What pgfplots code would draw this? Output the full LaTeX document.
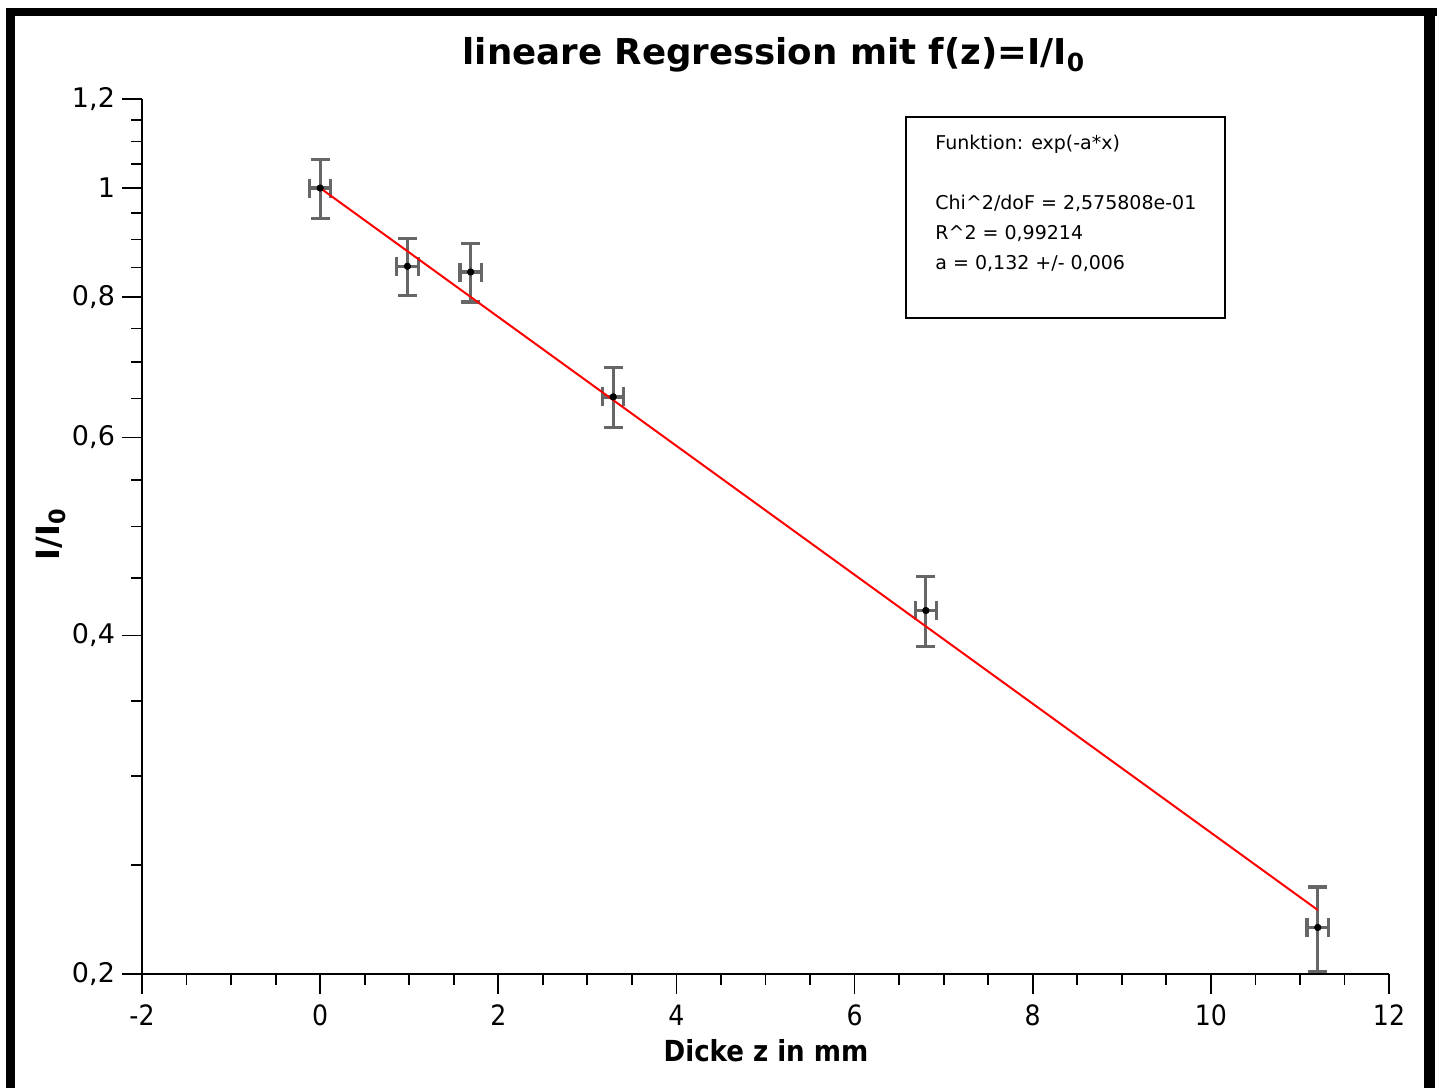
\documentclass[border=0pt]{standalone}
\usepackage{fontspec}
\setmainfont{DejaVu Sans}
\newfontfamily\cond{DejaVu Sans Condensed}
\usepackage{pgfplots}
\pgfplotsset{compat=1.18}
\begin{document}
\begin{tikzpicture}
\path[use as bounding box] (0,0) rectangle (719.5pt,544pt);
\begin{axis}[
  at={(71pt,57pt)}, anchor=south west,
  scale only axis, width=623.5pt, height=437.5pt,
  xmin=-2, xmax=12, ymode=log, ymin=0.2, ymax=1.2,
  axis lines=left, axis line style={-, line width=1.1pt, black},
  tick align=outside,
  major tick length=10pt, minor tick length=5.5pt,
  every tick/.style={black, line width=0.9pt},
  xtick={-2,0,2,4,6,8,10,12},
  xticklabels={-2,0,2,4,6,8,10,12},
  minor x tick num=3,
  ytick={0.2,0.4,0.6,0.8,1,1.2},
  yticklabels={{0,2},{0,4},{0,6},{0,8},1,{1,2}},
  minor ytick={0.25,0.3,0.35,0.45,0.5,0.55,0.65,0.7,0.75,0.85,0.9,0.95,1.05,1.1,1.15},
  xticklabel style={font=\cond\fontsize{14}{16}\selectfont, yshift=-2pt},
  yticklabel style={font=\fontsize{13.5}{15}\selectfont},
  clip=false,
]
\addplot[only marks, mark=*, mark size=1.6pt, black,
  error bars/.cd, x dir=both, x explicit, y dir=both, y explicit,
  error bar style={line width=1.6pt, black!60},
  error mark options={rotate=90, mark size=4.75pt, line width=1.6pt, black!60}]
  table[x=x, y=y, x error=ex, y error=ey] {
x y ex ey
0 1.0 0.12 0.06
0.98 0.852 0.12 0.05
1.69 0.842 0.12 0.05
3.29 0.652 0.12 0.04
6.80 0.421 0.12 0.03
11.2 0.220 0.12 0.019
};
\addplot[red, line width=1pt] coordinates {(0,1) (11.2,0.228)};
\end{axis}
\node[anchor=base, font=\bfseries\fontsize{17.8}{20}\selectfont] at (387pt,511.5pt) {lineare Regression mit f(z)=I/I\textsubscript{0}};
\node[rotate=90, font=\bfseries\fontsize{16}{18}\selectfont] at (25.5pt,277pt) {I/I\textsubscript{0}};
\node[anchor=base, font=\cond\bfseries\fontsize{14.5}{16}\selectfont] at (383pt,13.5pt) {Dicke z in mm};
\draw[line width=1pt] (453pt,385pt) rectangle (612.5pt,485.5pt);
\begin{scope}[every node/.style={anchor=base west, inner sep=0pt, font=\fontsize{9.5}{11}\selectfont}]
\node at (467.5pt,469pt) {Funktion: exp(-a*x)};
\node at (467.5pt,439pt) {Chi\^{}2/doF = 2,575808e-01};
\node at (467.5pt,424pt) {R\^{}2 = 0,99214};
\node at (467.5pt,409pt) {a = 0,132 +/- 0,006};
\end{scope}
\draw[line width=4.5pt] (5.25pt,0) -- (5.25pt,540pt);
\draw[line width=4pt] (3pt,538pt) -- (718.5pt,538pt);
\draw[line width=5.5pt] (714.5pt,540pt) -- (714.5pt,0);
\end{tikzpicture}
\end{document}
